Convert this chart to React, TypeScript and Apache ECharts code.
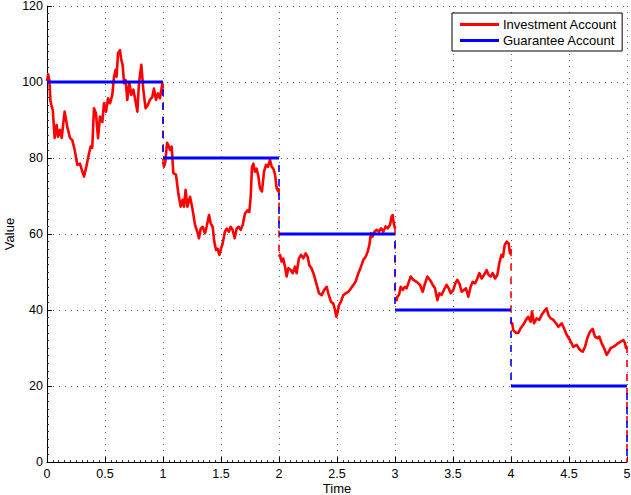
import React, { useEffect, useRef } from "react";
import * as echarts from "echarts";

// Investment account path, one array per year (time, value)
const invest1: [number, number][] = [[0,100.3],[0.01,102],[0.02,100.5],[0.03,95],[0.037,94],[0.05,92.6],[0.066,85.3],[0.083,88.7],[0.095,85.6],[0.112,87.4],[0.127,85.3],[0.14,89],[0.152,92.2],[0.175,88.2],[0.198,85.3],[0.218,84.7],[0.239,82.1],[0.261,78.2],[0.284,78.5],[0.305,76.4],[0.319,75.1],[0.339,77.7],[0.356,80.3],[0.376,83],[0.39,82.7],[0.405,93.1],[0.422,91.8],[0.44,85.2],[0.457,90.9],[0.477,89.5],[0.491,94.4],[0.509,92.2],[0.526,95.7],[0.543,94.4],[0.563,96.6],[0.578,101.4],[0.592,103.2],[0.6,101.4],[0.612,107.5],[0.629,108.4],[0.641,105.8],[0.652,104.5],[0.664,99.7],[0.678,100.5],[0.692,95.3],[0.71,99.7],[0.727,96.6],[0.744,98],[0.764,94.8],[0.779,92.2],[0.793,99.7],[0.813,104.5],[0.83,98],[0.85,93.1],[0.87,94],[0.887,95.3],[0.908,96.1],[0.922,98.3],[0.94,95.3],[0.957,97],[0.974,95.7],[0.994,99.7],[1,98.3]];
const invest2: [number, number][] = [[1,79],[1.009,77.7],[1.02,79],[1.035,84],[1.046,83.4],[1.06,82.1],[1.075,83],[1.089,76],[1.112,75.6],[1.132,70.7],[1.152,67.2],[1.169,69],[1.181,67.2],[1.195,71.6],[1.21,67.2],[1.233,69.8],[1.253,66.8],[1.276,62.4],[1.296,60.6],[1.31,58.9],[1.325,61.4],[1.342,61.9],[1.362,60.2],[1.376,61.9],[1.397,65],[1.411,62.8],[1.428,61.9],[1.442,58],[1.457,55.8],[1.471,56.1],[1.486,54.5],[1.5,56.1],[1.514,57.5],[1.534,60.6],[1.549,61.4],[1.568,60.6],[1.583,61.9],[1.6,61.1],[1.618,58.9],[1.635,61.4],[1.652,61.9],[1.67,61.1],[1.687,62.4],[1.707,65.4],[1.727,66.2],[1.744,65.8],[1.756,69.8],[1.767,77.7],[1.779,78.5],[1.793,76.4],[1.807,77.2],[1.822,75.2],[1.836,72],[1.853,71.2],[1.871,76.4],[1.888,78.2],[1.905,77.7],[1.922,79.5],[1.937,77.7],[1.951,77.2],[1.966,75.6],[1.98,72],[1.994,71.2],[2,72]];
const invest3: [number, number][] = [[2,54],[2.009,54.5],[2.023,52.7],[2.037,53.5],[2.052,51.4],[2.066,48.8],[2.08,51],[2.1,50.6],[2.118,49.7],[2.138,51.4],[2.152,49.7],[2.172,53.6],[2.19,54.5],[2.21,53.6],[2.23,54.9],[2.247,54],[2.261,51.8],[2.28,51],[2.302,49.2],[2.325,46.6],[2.345,44.4],[2.368,43.9],[2.39,45.3],[2.411,46.1],[2.425,44.4],[2.448,42.2],[2.468,41.7],[2.483,40],[2.494,38.2],[2.506,39.5],[2.517,41.3],[2.534,42.2],[2.554,43.9],[2.575,44.4],[2.598,44.8],[2.621,45.7],[2.641,46.6],[2.661,47.5],[2.684,49.7],[2.707,51.4],[2.727,53.2],[2.747,54],[2.764,55.3],[2.779,57.1],[2.793,60.2],[2.807,59.3],[2.822,60.6],[2.842,61.1],[2.862,60.6],[2.879,61.5],[2.899,60.6],[2.919,62],[2.937,61.5],[2.957,62.4],[2.971,64.6],[2.98,65],[2.989,62.8],[3,61.5]];
const invest4: [number, number][] = [[3,42.6],[3.015,42.6],[3.02,43.5],[3.035,44],[3.049,46.1],[3.066,45.3],[3.086,46.1],[3.1,45.7],[3.115,47],[3.135,48.8],[3.158,47.9],[3.187,47.4],[3.216,46.6],[3.239,44.8],[3.259,47],[3.279,48.8],[3.302,47.9],[3.325,46.6],[3.345,45.7],[3.365,42.6],[3.382,44.4],[3.402,44],[3.422,45.3],[3.445,46.6],[3.463,45.7],[3.48,44.4],[3.503,45.3],[3.52,47],[3.537,47.9],[3.555,47],[3.575,44.8],[3.595,45.3],[3.612,45.7],[3.632,43.5],[3.652,46.1],[3.67,47.4],[3.69,47],[3.71,48.3],[3.727,49.7],[3.747,48.3],[3.767,49.2],[3.79,50.5],[3.807,49.2],[3.825,48.8],[3.842,49.7],[3.862,48.3],[3.882,49.2],[3.899,52.3],[3.917,54.5],[3.931,54],[3.946,57.1],[3.963,58],[3.98,57.5],[3.991,54.9],[4,56]];
const invest5: [number, number][] = [[4,36.5],[4.01,36.5],[4.02,34.7],[4.043,34],[4.063,34],[4.083,35.2],[4.106,36.1],[4.129,37.4],[4.149,38.2],[4.169,36.9],[4.181,39.6],[4.198,36.5],[4.221,37.8],[4.244,37.4],[4.264,38.7],[4.284,39.6],[4.307,40.4],[4.322,38.7],[4.342,37.8],[4.365,37.4],[4.388,36.5],[4.408,35.6],[4.437,36.5],[4.457,35.2],[4.48,33.5],[4.508,32.1],[4.537,30.3],[4.566,30.8],[4.595,29.5],[4.618,29],[4.638,30.3],[4.658,32.6],[4.681,34.3],[4.704,35],[4.724,33],[4.744,32.6],[4.761,33],[4.781,31.3],[4.802,30],[4.825,28.2],[4.842,29],[4.86,30],[4.882,30.3],[4.905,30.8],[4.925,31.3],[4.945,31.7],[4.968,32.1],[4.983,31.3],[4.991,30],[5,30.5]];
const investFinal = 0;

// Guarantee account level for each year, and after maturity
const guaranteeLevels = [100, 80, 60, 40, 20];
const guaranteeFinal = 0;

const xTicks = [0, 0.5, 1, 1.5, 2, 2.5, 3, 3.5, 4, 4.5, 5];
const yTicks = [0, 20, 40, 60, 80, 100, 120];

const FONT = "'Liberation Sans', Arial, Helvetica, sans-serif";
const RED = "#ff0000";
const BLUE = "#0000ff";

export default function App() {
  const ref = useRef<HTMLDivElement>(null);
  useEffect(() => {
    if (!ref.current) return;
    const chart = echarts.init(ref.current, undefined, { renderer: "svg" });
    const paths = [invest1, invest2, invest3, invest4, invest5];
    const series: any[] = [];
    paths.forEach((p) => {
      series.push({
        name: "Investment Account",
        type: "line",
        data: p,
        showSymbol: false,
        symbol: "none",
        lineStyle: { color: RED, width: 2.6, join: "round" },
        itemStyle: { color: RED },
        z: 2,
      });
    });
    paths.forEach((p, i) => {
      const endPt = p[p.length - 1];
      const nextStart = i < paths.length - 1 ? paths[i + 1][0][1] : investFinal;
      series.push({
        name: "jumpR" + i,
        type: "line",
        data: [[endPt[0], endPt[1]], [endPt[0], nextStart]],
        showSymbol: false,
        symbol: "none",
        lineStyle: { color: RED, width: 1.6, type: [7, 7], dashOffset: 0 },
        z: 3,
      });
    });
    guaranteeLevels.forEach((g, i) => {
      series.push({
        name: "Guarantee Account",
        type: "line",
        data: [[i, g], [i + 1, g]],
        showSymbol: false,
        symbol: "none",
        lineStyle: { color: BLUE, width: 3 },
        itemStyle: { color: BLUE },
        z: 4,
      });
    });
    guaranteeLevels.forEach((g, i) => {
      const next = i < guaranteeLevels.length - 1 ? guaranteeLevels[i + 1] : guaranteeFinal;
      series.push({
        name: "jumpB" + i,
        type: "line",
        data: [[i + 1, g], [i + 1, next]],
        showSymbol: false,
        symbol: "none",
        lineStyle: { color: BLUE, width: 1.6, type: [7, 7], dashOffset: 7 },
        z: 4,
      });
    });

    chart.setOption({
      animation: false,
      backgroundColor: "#ffffff",
      textStyle: { fontFamily: FONT },
      grid: { left: 47, right: 4, top: 6, bottom: 33, containLabel: false, outerBoundsMode: "none" },
      legend: {
        data: [
          { name: "Investment Account", icon: "rect", itemStyle: { color: RED } },
          { name: "Guarantee Account", icon: "rect", itemStyle: { color: BLUE } },
        ],
        orient: "vertical",
        left: 452,
        top: 13,
        padding: [5, 5, 4, 8],
        itemGap: 3,
        itemWidth: 39,
        itemHeight: 3,
        backgroundColor: "#ffffff",
        borderColor: "#000000",
        borderWidth: 1,
        borderRadius: 0,
        selectedMode: false,
        textStyle: { fontFamily: FONT, fontSize: 13, color: "#000", padding: [0, 0, 0, -1] },
      },
      xAxis: {
        type: "value",
        min: xTicks[0],
        max: xTicks[xTicks.length - 1],
        interval: 0.5,
        name: "Time",
        nameLocation: "middle",
        nameGap: 20,
        nameMoveOverlap: false,
        nameTextStyle: { fontFamily: FONT, fontSize: 13, color: "#000" },
        axisLine: { show: true, onZero: false, lineStyle: { color: "#000", width: 1 } },
        axisTick: { show: true, inside: true, length: 5, lineStyle: { color: "#000" } },
        minorTick: { show: true, splitNumber: 10, length: 2, lineStyle: { color: "#333" } },
        axisLabel: { fontFamily: FONT, fontSize: 12.5, color: "#000", margin: 5 },
        splitLine: { show: true, lineStyle: { color: "#666", width: 1, type: [1, 5] } },
      },
      yAxis: {
        type: "value",
        min: yTicks[0],
        max: yTicks[yTicks.length - 1],
        interval: 20,
        name: "Value",
        nameLocation: "middle",
        nameGap: 31,
        nameRotate: 90,
        nameMoveOverlap: false,
        nameTextStyle: { fontFamily: FONT, fontSize: 13, color: "#000" },
        axisLine: { show: true, onZero: false, lineStyle: { color: "#000", width: 1 } },
        axisTick: { show: true, inside: true, length: 5, lineStyle: { color: "#000" } },
        minorTick: { show: true, splitNumber: 10, length: 2, lineStyle: { color: "#333" } },
        axisLabel: { fontFamily: FONT, fontSize: 12.5, color: "#000", margin: 4 },
        splitLine: { show: true, lineStyle: { color: "#666", width: 1, type: [1, 5] } },
      },
      series,
    });
    return () => chart.dispose();
  }, []);
  return (
    <div
      ref={ref}
      style={{ position: "absolute", left: 0, top: 0, width: 631, height: 495, background: "#fff" }}
    />
  );
}
